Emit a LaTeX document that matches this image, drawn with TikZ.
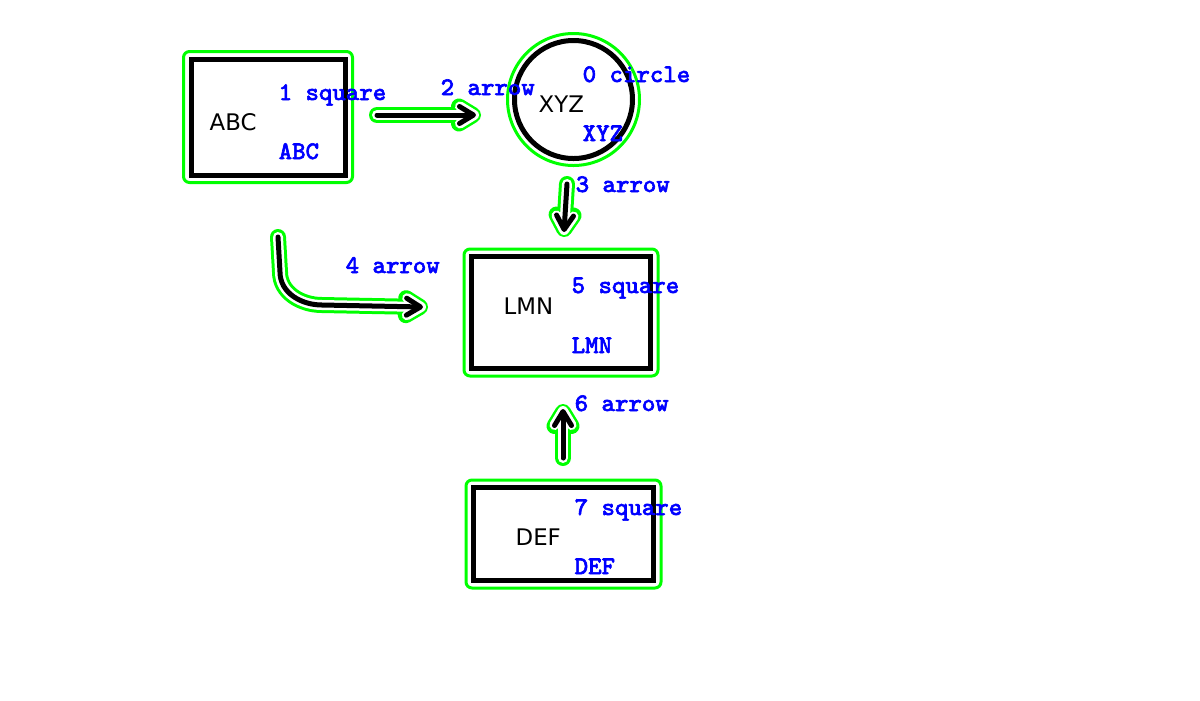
\documentclass[tikz,border=0pt]{standalone}
\usepackage{fontspec}
\setmainfont{DejaVu Sans}
\newfontfamily\tagfont{Latin Modern Mono}[FakeBold=2.5]
\usepackage{xcolor}
\usetikzlibrary{arrows.meta,fit}
\definecolor{hullgreen}{RGB}{0,255,0}
\definecolor{tagblue}{RGB}{0,0,255}

\begin{document}
\begin{tikzpicture}[
  box/.style={rectangle,draw,line width=.05cm,inner sep=0,outer sep=0},
  ring/.style={circle,draw,line width=.05cm,inner sep=0,outer sep=0,minimum size=1.18cm},
  hull/.style={draw=hullgreen,line width=.03cm,rounded corners=.06cm,inner sep=.075cm},
  word/.style={anchor=base west,inner sep=0,font=\fontsize{6.5pt}{7pt}\selectfont},
  tag/.style={anchor=base west,inner sep=0,text=tagblue,font=\tagfont\fontsize{7.2pt}{8pt}\selectfont},
  arrow/.style={line width=.05cm,line cap=round,line join=round,
    -{Straight Barb[length=.14cm,width=.17cm,round]},
    preaction={draw=hullgreen,line width=.16cm,line cap=round,shorten >=-.05cm},
    preaction={draw=white,line width=.1cm,line cap=round,shorten >=-.03cm}}]
\useasboundingbox (0,0) rectangle (12,7);
% shapes
\node[box,minimum width=1.54cm,minimum height=1.16cm] (abc) at (2.68,5.83) {};
\node[ring] (xyz) at (5.735,6.005) {};
\node[box,minimum width=1.79cm,minimum height=1.12cm] (lmn) at (5.61,3.875) {};
\node[box,minimum width=1.80cm,minimum height=.93cm] (def) at (5.635,1.66) {};
\node[hull,fit=(abc)] (abc-hull) {};
\node[hull,fit=(lmn)] (lmn-hull) {};
\node[hull,fit=(def)] (def-hull) {};
\node[draw=hullgreen,line width=.03cm,circle,inner sep=0,minimum size=1.32cm] (xyz-hull) at (xyz) {};
% arrow ends
\coordinate (a2s) at (3.77,5.85); \coordinate (a2e) at (4.76,5.85);
\coordinate (a3s) at (5.67,5.16); \coordinate (a3e) at (5.64,4.68);
\coordinate (a4s) at (2.78,4.63); \coordinate (a4e) at (4.23,3.93);
\coordinate (a6s) at (5.63,2.42); \coordinate (a6e) at (5.63,2.91);
\draw[arrow] (a2s)--(a2e);
\draw[arrow] (a3s)--(a3e);
\draw[arrow] (a4s)--(2.80,4.28) to[out=-90,in=180] (3.22,3.95)--(a4e);
\draw[arrow] (a6s)--(a6e);
% texts
\node[word] (abc-word) at (2.09,5.70) {ABC};
\node[word] (xyz-word) at (5.38,5.88) {XYZ};
\node[word] (lmn-word) at (5.03,3.86) {LMN};
\node[word] (def-word) at (5.15,1.55) {DEF};
\node[tag] (abc-tag) at (2.78,6.00) {1 square};
\node[tag] (abc-name) at (2.78,5.41) {ABC};
\node[tag] (xyz-tag) at (5.82,6.18) {0 circle};
\node[tag] (xyz-name) at (5.82,5.59) {XYZ};
\node[tag] (a2-tag) at (4.40,6.05) {2 arrow};
\node[tag] (a3-tag) at (5.75,5.08) {3 arrow};
\node[tag] (a4-tag) at (3.45,4.27) {4 arrow};
\node[tag] (lmn-tag) at (5.71,4.07) {5 square};
\node[tag] (lmn-name) at (5.71,3.47) {LMN};
\node[tag] (a6-tag) at (5.74,2.89) {6 arrow};
\node[tag] (def-tag) at (5.74,1.85) {7 square};
\node[tag] (def-name) at (5.74,1.26) {DEF};
\end{tikzpicture}
\end{document}
